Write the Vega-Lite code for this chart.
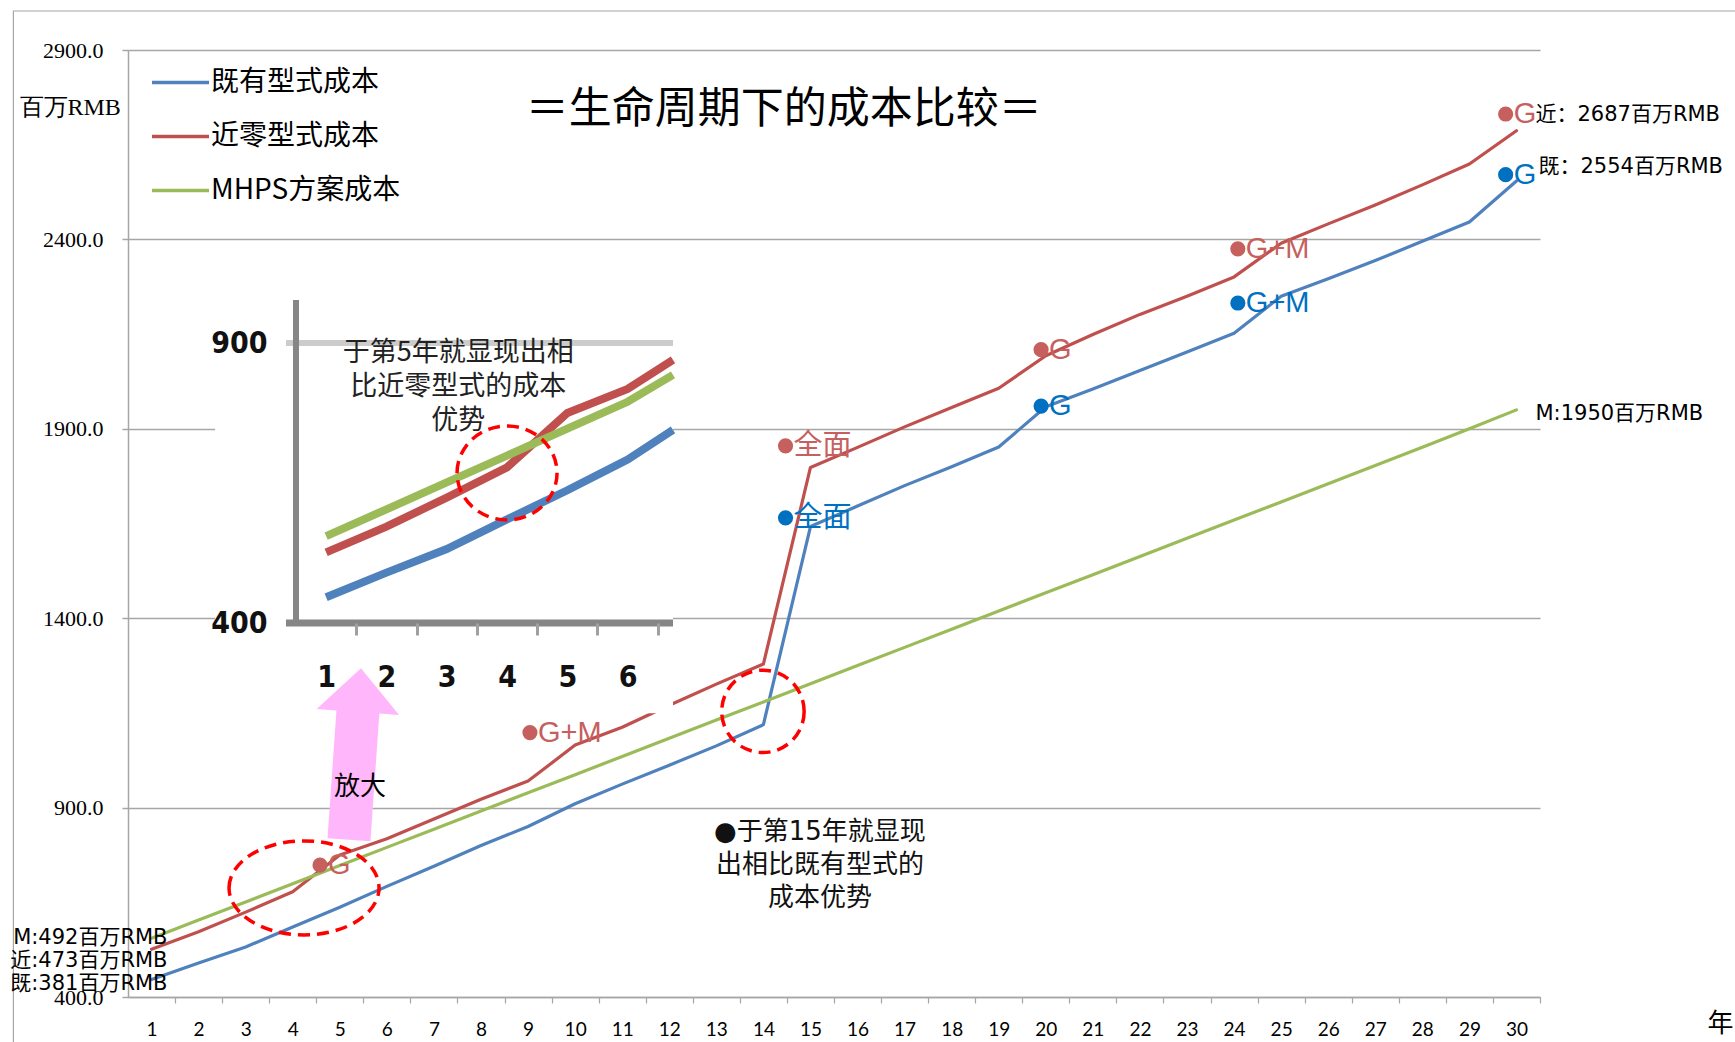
{
  "$schema": "https://vega.github.io/schema/vega-lite/v6.json",
  "width": 1412,
  "height": 947,
  "autosize": {"type": "none"},
  "padding": {"left": 128, "top": 50, "right": 195, "bottom": 45},
  "background": "white",
  "config": {
    "view": {"stroke": null},
    "font": "DejaVu Sans",
    "axis": {"labelColor": "#000000", "titleColor": "#000000"}
  },
  "datasets": {
    "costs": [
      {"series": "既有型式成本", "year": 1, "cost": 446},
      {"series": "既有型式成本", "year": 2, "cost": 490},
      {"series": "既有型式成本", "year": 3, "cost": 532},
      {"series": "既有型式成本", "year": 4, "cost": 585},
      {"series": "既有型式成本", "year": 5, "cost": 637},
      {"series": "既有型式成本", "year": 6, "cost": 692},
      {"series": "既有型式成本", "year": 7, "cost": 745},
      {"series": "既有型式成本", "year": 8, "cost": 800},
      {"series": "既有型式成本", "year": 9, "cost": 850},
      {"series": "既有型式成本", "year": 10, "cost": 910},
      {"series": "既有型式成本", "year": 11, "cost": 962},
      {"series": "既有型式成本", "year": 12, "cost": 1012},
      {"series": "既有型式成本", "year": 13, "cost": 1063},
      {"series": "既有型式成本", "year": 14, "cost": 1119},
      {"series": "既有型式成本", "year": 15, "cost": 1642},
      {"series": "既有型式成本", "year": 16, "cost": 1696},
      {"series": "既有型式成本", "year": 17, "cost": 1750},
      {"series": "既有型式成本", "year": 18, "cost": 1800},
      {"series": "既有型式成本", "year": 19, "cost": 1852},
      {"series": "既有型式成本", "year": 20, "cost": 1958},
      {"series": "既有型式成本", "year": 21, "cost": 2005},
      {"series": "既有型式成本", "year": 22, "cost": 2054},
      {"series": "既有型式成本", "year": 23, "cost": 2103},
      {"series": "既有型式成本", "year": 24, "cost": 2152},
      {"series": "既有型式成本", "year": 25, "cost": 2250},
      {"series": "既有型式成本", "year": 26, "cost": 2296},
      {"series": "既有型式成本", "year": 27, "cost": 2344},
      {"series": "既有型式成本", "year": 28, "cost": 2395},
      {"series": "既有型式成本", "year": 29, "cost": 2446},
      {"series": "既有型式成本", "year": 30, "cost": 2554},
      {"series": "近零型式成本", "year": 1, "cost": 526},
      {"series": "近零型式成本", "year": 2, "cost": 572},
      {"series": "近零型式成本", "year": 3, "cost": 624},
      {"series": "近零型式成本", "year": 4, "cost": 678},
      {"series": "近零型式成本", "year": 5, "cost": 775},
      {"series": "近零型式成本", "year": 6, "cost": 818},
      {"series": "近零型式成本", "year": 7, "cost": 870},
      {"series": "近零型式成本", "year": 8, "cost": 922},
      {"series": "近零型式成本", "year": 9, "cost": 970},
      {"series": "近零型式成本", "year": 10, "cost": 1065},
      {"series": "近零型式成本", "year": 11, "cost": 1112},
      {"series": "近零型式成本", "year": 12, "cost": 1170},
      {"series": "近零型式成本", "year": 13, "cost": 1226},
      {"series": "近零型式成本", "year": 14, "cost": 1279},
      {"series": "近零型式成本", "year": 15, "cost": 1798},
      {"series": "近零型式成本", "year": 16, "cost": 1851},
      {"series": "近零型式成本", "year": 17, "cost": 1905},
      {"series": "近零型式成本", "year": 18, "cost": 1956},
      {"series": "近零型式成本", "year": 19, "cost": 2007},
      {"series": "近零型式成本", "year": 20, "cost": 2093},
      {"series": "近零型式成本", "year": 21, "cost": 2149},
      {"series": "近零型式成本", "year": 22, "cost": 2202},
      {"series": "近零型式成本", "year": 23, "cost": 2250},
      {"series": "近零型式成本", "year": 24, "cost": 2301},
      {"series": "近零型式成本", "year": 25, "cost": 2390},
      {"series": "近零型式成本", "year": 26, "cost": 2441},
      {"series": "近零型式成本", "year": 27, "cost": 2491},
      {"series": "近零型式成本", "year": 28, "cost": 2544},
      {"series": "近零型式成本", "year": 29, "cost": 2599},
      {"series": "近零型式成本", "year": 30, "cost": 2687},
      {"series": "MHPS方案成本", "year": 1, "cost": 555},
      {"series": "MHPS方案成本", "year": 2, "cost": 603},
      {"series": "MHPS方案成本", "year": 3, "cost": 651},
      {"series": "MHPS方案成本", "year": 4, "cost": 699},
      {"series": "MHPS方案成本", "year": 5, "cost": 747},
      {"series": "MHPS方案成本", "year": 6, "cost": 795},
      {"series": "MHPS方案成本", "year": 7, "cost": 843},
      {"series": "MHPS方案成本", "year": 8, "cost": 891},
      {"series": "MHPS方案成本", "year": 9, "cost": 939},
      {"series": "MHPS方案成本", "year": 10, "cost": 987},
      {"series": "MHPS方案成本", "year": 11, "cost": 1035},
      {"series": "MHPS方案成本", "year": 12, "cost": 1083},
      {"series": "MHPS方案成本", "year": 13, "cost": 1131},
      {"series": "MHPS方案成本", "year": 14, "cost": 1179},
      {"series": "MHPS方案成本", "year": 15, "cost": 1227},
      {"series": "MHPS方案成本", "year": 16, "cost": 1275},
      {"series": "MHPS方案成本", "year": 17, "cost": 1323},
      {"series": "MHPS方案成本", "year": 18, "cost": 1371},
      {"series": "MHPS方案成本", "year": 19, "cost": 1419},
      {"series": "MHPS方案成本", "year": 20, "cost": 1467},
      {"series": "MHPS方案成本", "year": 21, "cost": 1515},
      {"series": "MHPS方案成本", "year": 22, "cost": 1563},
      {"series": "MHPS方案成本", "year": 23, "cost": 1611},
      {"series": "MHPS方案成本", "year": 24, "cost": 1659},
      {"series": "MHPS方案成本", "year": 25, "cost": 1707},
      {"series": "MHPS方案成本", "year": 26, "cost": 1755},
      {"series": "MHPS方案成本", "year": 27, "cost": 1803},
      {"series": "MHPS方案成本", "year": 28, "cost": 1851},
      {"series": "MHPS方案成本", "year": 29, "cost": 1900},
      {"series": "MHPS方案成本", "year": 30, "cost": 1950}
    ],
    "events": [
      {"series": "近零型式成本", "year": 4.41, "cost": 748, "label": "G"},
      {"series": "近零型式成本", "year": 8.87, "cost": 1098, "label": "G+M"},
      {"series": "近零型式成本", "year": 14.3, "cost": 1855, "label": "全面"},
      {"series": "近零型式成本", "year": 19.73, "cost": 2109, "label": "G"},
      {"series": "近零型式成本", "year": 23.91, "cost": 2375, "label": "G+M"},
      {"series": "近零型式成本", "year": 29.6, "cost": 2731, "label": "G"},
      {"series": "既有型式成本", "year": 14.3, "cost": 1665, "label": "全面"},
      {"series": "既有型式成本", "year": 19.73, "cost": 1960, "label": "G"},
      {"series": "既有型式成本", "year": 23.91, "cost": 2232, "label": "G+M"},
      {"series": "既有型式成本", "year": 29.6, "cost": 2571, "label": "G"}
    ]
  },
  "layer": [
    {
      "layer": [
        {
          "data": {"name": "costs"},
          "mark": {"type": "line", "strokeWidth": 3.2, "strokeJoin": "round", "strokeCap": "round"},
          "encoding": {
            "x": {
              "field": "year", "type": "quantitative",
              "scale": {"domain": [0.5, 30.5], "nice": false, "zero": false},
              "axis": {
                "orient": "bottom",
                "values": [1, 2, 3, 4, 5, 6, 7, 8, 9, 10, 11, 12, 13, 14, 15, 16, 17, 18, 19, 20, 21, 22, 23, 24, 25, 26, 27, 28, 29, 30],
                "format": "d",
                "tickOffset": 23.53, "labelOffset": -23.53,
                "tickSize": 6, "tickColor": "#A6A6A6", "tickWidth": 1.2,
                "domainColor": "#A6A6A6", "domainWidth": 1.5,
                "grid": false,
                "labelFont": "Lato", "labelFontSize": 19, "labelPadding": 26, "labelBaseline": "middle",
                "labelOverlap": false, "labelFlush": false,
                "title": "年", "titleFont": "Noto Sans CJK SC", "titleFontSize": 26, "titleFontWeight": "normal",
                "titleX": 1592, "titleY": 26, "titleAlign": "center", "titleBaseline": "middle"
              }
            },
            "y": {
              "field": "cost", "type": "quantitative",
              "scale": {"domain": [400, 2900], "nice": false, "zero": false},
              "axis": {
                "orient": "left",
                "values": [400, 900, 1400, 1900, 2400, 2900],
                "format": ".1f",
                "grid": true, "gridColor": "#A6A6A6", "gridWidth": 1.5,
                "domainColor": "#A6A6A6", "domainWidth": 1.5,
                "tickSize": 6, "tickColor": "#A6A6A6", "tickWidth": 1.5,
                "labelFont": "Liberation Serif", "labelFontSize": 22, "labelPadding": 19, "labelBaseline": "middle",
                "labelFlush": false,
                "title": "百万RMB", "titleFont": "Liberation Serif", "titleFontSize": 24, "titleFontWeight": "normal",
                "titleAngle": 0, "titleX": -109, "titleY": 57, "titleAlign": "left", "titleBaseline": "middle"
              }
            },
            "color": {
              "field": "series", "type": "nominal",
              "scale": {"domain": ["既有型式成本", "近零型式成本", "MHPS方案成本"], "range": ["#4F81BD", "#C0504D", "#9BBB59"]},
              "legend": {
                "orient": "none", "legendX": 22, "legendY": 2, "title": null, "padding": 0,
                "symbolType": "stroke", "symbolSize": 3249, "symbolStrokeWidth": 3.5,
                "labelFont": "Noto Sans CJK SC", "labelFontSize": 28, "labelColor": "#000000", "labelLimit": 0,
                "labelOffset": 0, "rowPadding": 9
              }
            },
            "order": {"field": "year"}
          }
        },
        {
          "data": {"values": [{}]},
          "mark": {"type": "rect", "filled": false, "stroke": "#A6A6A6", "strokeWidth": 1.2},
          "encoding": {"x": {"datum": -1.935}, "x2": {"datum": 36}, "y": {"datum": 3003}, "y2": {"datum": 200}}
        },
        {
          "data": {"name": "events"},
          "mark": {"type": "point", "filled": true, "shape": "circle", "size": 230, "opacity": 1},
          "encoding": {
            "x": {"field": "year", "type": "quantitative"},
            "y": {"field": "cost", "type": "quantitative"},
            "xOffset": {"value": 8},
            "color": {"condition": {"test": "datum.series === '近零型式成本'", "value": "#C6605E"}, "value": "#0070C0"}
          }
        },
        {
          "data": {"name": "events"},
          "mark": {"type": "text", "align": "left", "baseline": "middle", "dx": 16, "font": "Liberation Sans, Noto Sans CJK SC", "fontSize": 29},
          "encoding": {
            "x": {"field": "year", "type": "quantitative"},
            "y": {"field": "cost", "type": "quantitative"},
            "text": {"field": "label"},
            "color": {"condition": {"test": "datum.series === '近零型式成本'", "value": "#C6605E"}, "value": "#0070C0"}
          }
        },
        {
          "data": {"values": [{}]},
          "mark": {"type": "text", "align": "right", "baseline": "middle", "dx": 16, "dy": -11, "lineHeight": 23, "font": "DejaVu Sans, Noto Sans CJK SC", "fontSize": 21, "color": "#000000",
                   "text": ["M:492百万RMB", "近:473百万RMB", "既:381百万RMB"]},
          "encoding": {"x": {"datum": 1}, "y": {"datum": 526}}
        },
        {
          "data": {"values": [{}]},
          "mark": {"type": "text", "align": "left", "baseline": "middle", "dx": 19, "dy": -16, "font": "DejaVu Sans, Noto Sans CJK SC", "fontSize": 21, "color": "#000000", "text": "近：2687百万RMB"},
          "encoding": {"x": {"datum": 30}, "y": {"datum": 2687}}
        },
        {
          "data": {"values": [{}]},
          "mark": {"type": "text", "align": "left", "baseline": "middle", "dx": 22, "dy": -14, "font": "DejaVu Sans, Noto Sans CJK SC", "fontSize": 21, "color": "#000000", "text": "既：2554百万RMB"},
          "encoding": {"x": {"datum": 30}, "y": {"datum": 2554}}
        },
        {
          "data": {"values": [{}]},
          "mark": {"type": "text", "align": "left", "baseline": "middle", "dx": 19, "dy": 4, "font": "DejaVu Sans, Noto Sans CJK SC", "fontSize": 21, "color": "#000000", "text": "M:1950百万RMB"},
          "encoding": {"x": {"datum": 30}, "y": {"datum": 1950}}
        },
        {
          "data": {"values": [{}]},
          "mark": {"type": "point", "filled": false, "color": "#FF0000", "strokeWidth": 3.5, "strokeDash": [12, 7], "opacity": 1, "size": 22500,
                   "shape": "M-1,0C-1,-0.346,-0.552,-0.627,0,-0.627C0.552,-0.627,1,-0.346,1,0C1,0.346,0.552,0.627,0,0.627C-0.552,0.627,-1,0.346,-1,0Z"},
          "encoding": {"x": {"datum": 4.24}, "y": {"datum": 688}}
        },
        {
          "data": {"values": [{}]},
          "mark": {"type": "point", "filled": false, "color": "#FF0000", "strokeWidth": 3.5, "strokeDash": [12, 7], "opacity": 1, "size": 6793, "shape": "circle"},
          "encoding": {"x": {"datum": 13.99}, "y": {"datum": 1154}}
        },
        {
          "data": {"values": [{}]},
          "mark": {"type": "text", "align": "center", "baseline": "middle", "lineHeight": 33, "font": "DejaVu Sans, Noto Sans CJK SC", "fontSize": 26, "color": "#111111",
                   "text": ["●于第15年就显现", "出相比既有型式的", "成本优势"]},
          "encoding": {"x": {"datum": 15.2}, "y": {"datum": 836}}
        },
        {
          "data": {"values": [{}]},
          "mark": {"type": "text", "align": "center", "baseline": "middle", "font": "Noto Sans CJK SC", "fontSize": 43, "color": "#000000", "text": "＝生命周期下的成本比较＝"},
          "encoding": {"x": {"datum": 14.43}, "y": {"datum": 2741}}
        }
      ]
    },
    {
      "layer": [
        {
          "data": {"values": [{}]},
          "mark": {"type": "rect", "color": "#FFFFFF", "opacity": 1},
          "encoding": {
            "x": {"datum": -0.843, "type": "quantitative", "scale": {"domain": [-0.843, 6.752], "range": [87, 545], "clamp": true, "nice": false, "zero": false},
                  "axis": {
                    "orient": "bottom", "offset": -374, "zindex": 1,
                    "values": [1, 2, 3, 4, 5, 6],
                    "format": "d",
                    "tickOffset": 30.15, "labelOffset": -30.15,
                    "domain": false, "grid": false,
                    "tickSize": 12, "tickWidth": 3, "tickColor": "#A0A0A0",
                    "labelFont": "Liberation Sans Narrow, DejaVu Sans Condensed, Liberation Sans", "labelFontWeight": "bold", "labelFontSize": 30,
                    "labelPadding": 42, "labelBaseline": "middle", "labelColor": "#111111", "labelOverlap": false, "labelFlush": false,
                    "title": null
                  }},
            "x2": {"datum": 6.752},
            "y": {"datum": 239, "type": "quantitative", "scale": {"domain": [400, 976.8], "range": [573, 250], "nice": false, "zero": false},
                  "axis": {
                    "orient": "left", "offset": -168, "zindex": 1,
                    "values": [400, 900],
                    "domain": false, "ticks": false, "grid": false,
                    "labelFont": "Liberation Sans Narrow, DejaVu Sans Condensed, Liberation Sans", "labelFontWeight": "bold", "labelFontSize": 30,
                    "labelPadding": 29, "labelBaseline": "middle", "labelColor": "#111111", "labelFlush": false,
                    "title": null
                  }},
            "y2": {"datum": 986}
          }
        },
        {
          "data": {"values": [{}]},
          "mark": {"type": "rule", "color": "#CCCCCC", "strokeWidth": 6},
          "encoding": {"x": {"datum": 0.334}, "x2": {"datum": 6.752}, "y": {"datum": 900}}
        },
        {
          "data": {"values": [{}]},
          "mark": {"type": "rule", "color": "#868686", "strokeWidth": 7},
          "encoding": {"x": {"datum": 0.334}, "x2": {"datum": 6.752}, "y": {"datum": 400}}
        },
        {
          "data": {"values": [{}]},
          "mark": {"type": "rule", "color": "#868686", "strokeWidth": 6},
          "encoding": {"x": {"datum": 0.5}, "y": {"datum": 400}, "y2": {"datum": 976.8}}
        },
        {
          "data": {"name": "costs"},
          "transform": [{"filter": "datum.year <= 7"}],
          "mark": {"type": "line", "strokeWidth": 8},
          "encoding": {
            "x": {"field": "year", "type": "quantitative"},
            "y": {"field": "cost", "type": "quantitative"},
            "color": {"field": "series", "type": "nominal"},
            "order": {"field": "year"}
          }
        },
        {
          "data": {"values": [{}]},
          "mark": {"type": "point", "filled": false, "color": "#FF0000", "strokeWidth": 3.5, "strokeDash": [12, 7], "opacity": 1, "size": 10000,
                   "shape": "M-1,0C-1,-0.519,-0.552,-0.94,0,-0.94C0.552,-0.94,1,-0.519,1,0C1,0.519,0.552,0.94,0,0.94C-0.552,0.94,-1,0.519,-1,0Z"},
          "encoding": {"x": {"datum": 4.0}, "y": {"datum": 668}}
        },
        {
          "data": {"values": [{}]},
          "mark": {"type": "text", "align": "center", "baseline": "middle", "lineHeight": 34, "font": "Noto Sans CJK SC", "fontSize": 27, "color": "#222222",
                   "text": ["于第5年就显现出相", "比近零型式的成本", "优势"]},
          "encoding": {"x": {"datum": 3.19}, "y": {"datum": 882}}
        },
        {
          "data": {"values": [{}]},
          "mark": {"type": "point", "filled": true, "color": "#FFB6FA", "opacity": 1, "strokeWidth": 0, "size": 29584, "angle": 4,
                   "shape": "M0,-1L0.48,-0.49L0.25,-0.49L0.25,1L-0.25,1L-0.25,-0.49L-0.48,-0.49Z"},
          "encoding": {"x": {"datum": 1.478}, "y": {"datum": 166}}
        },
        {
          "data": {"values": [{}]},
          "mark": {"type": "text", "align": "center", "baseline": "middle", "font": "Noto Sans CJK SC", "fontSize": 26, "color": "#000000", "text": "放大"},
          "encoding": {"x": {"datum": 1.561}, "y": {"datum": 107}}
        }
      ]
    }
  ],
  "resolve": {"scale": {"x": "independent", "y": "independent"}}
}
